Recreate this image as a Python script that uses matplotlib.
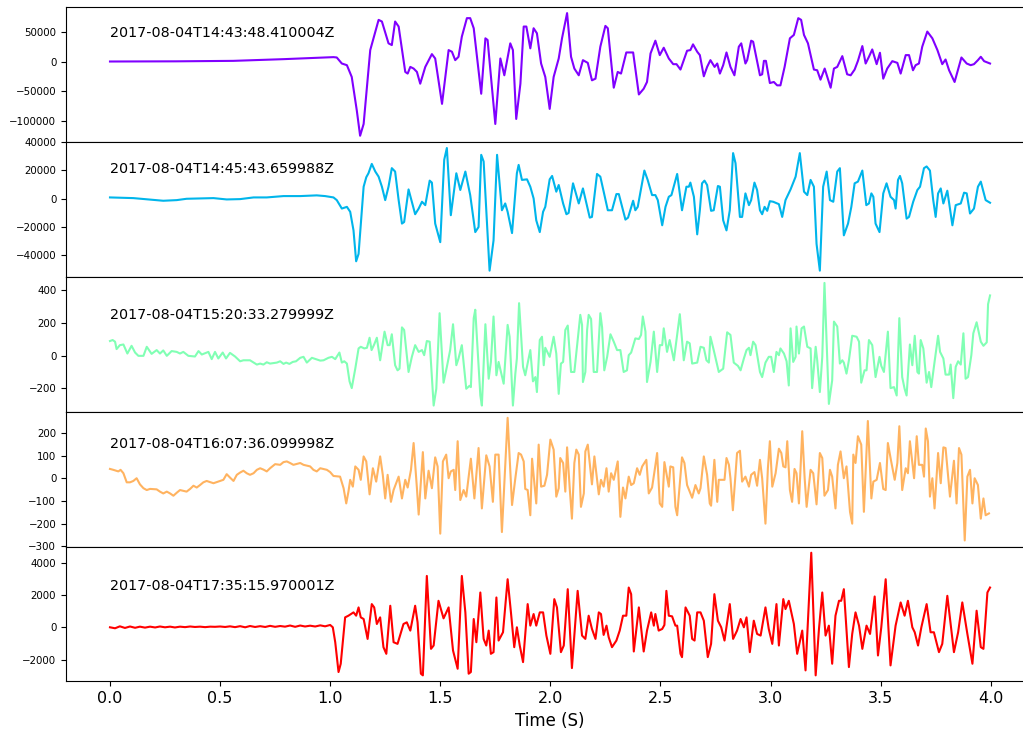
import numpy as np
import matplotlib
matplotlib.use("Agg")
import matplotlib.pyplot as plt


labels = ["2017-08-04T14:43:48.410004Z", "2017-08-04T14:45:43.659988Z",
          "2017-08-04T15:20:33.279999Z", "2017-08-04T16:07:36.099998Z",
          "2017-08-04T17:35:15.970001Z"]

###############################################################################
# Traces (time in s, amplitude in counts)
t1 = [0.000, 0.300, 0.560, 0.790, 1.015, 1.030, 1.053, 1.076, 1.098, 1.121,
      1.136, 1.152, 1.182, 1.220, 1.235, 1.265, 1.280, 1.295, 1.311, 1.341,
      1.352, 1.364, 1.379, 1.394, 1.409, 1.432, 1.462, 1.477, 1.508, 1.538,
      1.553, 1.568, 1.583, 1.598, 1.621, 1.636, 1.652, 1.686, 1.705, 1.715,
      1.750, 1.773, 1.791, 1.818, 1.830, 1.845, 1.864, 1.879, 1.891, 1.909,
      1.924, 1.939, 1.958, 1.977, 1.997, 2.015, 2.038, 2.053, 2.076, 2.094,
      2.109, 2.129, 2.148, 2.170, 2.189, 2.205, 2.227, 2.250, 2.261, 2.288,
      2.306, 2.321, 2.345, 2.376, 2.402, 2.424, 2.439, 2.455, 2.477, 2.497,
      2.515, 2.538, 2.558, 2.573, 2.591, 2.606, 2.621, 2.636, 2.648, 2.667,
      2.679, 2.697, 2.712, 2.727, 2.746, 2.758, 2.770, 2.785, 2.800, 2.818,
      2.836, 2.856, 2.867, 2.886, 2.894, 2.912, 2.921, 2.952, 2.962, 2.970,
      2.979, 2.997, 3.015, 3.030, 3.045, 3.064, 3.088, 3.106, 3.126, 3.139,
      3.152, 3.170, 3.197, 3.212, 3.227, 3.246, 3.273, 3.288, 3.303, 3.326,
      3.348, 3.364, 3.382, 3.397, 3.417, 3.432, 3.447, 3.462, 3.482, 3.497,
      3.512, 3.530, 3.553, 3.576, 3.591, 3.614, 3.629, 3.647, 3.659, 3.674,
      3.689, 3.712, 3.735, 3.758, 3.780, 3.795, 3.811, 3.836, 3.867, 3.891,
      3.909, 3.924, 3.942, 3.955, 3.970, 3.997]
a1 = [0, 300, 1100, 4000, 7400, 6800, -3400, -6200, -26100, -82900,
      -125500, -105600, 19300, 70400, 67600, 30700, 27800, 67600, 59100, -17600,
      -20400, -9100, -11900, -17600, -37500, -9100, 12500, 5100, -71600, 19300,
      16500, 2300, 8000, 42000, 73300, 73300, 56200, -54500, 39200, 36400,
      -105600, 5100, -23300, 30700, 19300, -97100, -37500, 59100, 59100, 22200,
      56200, 47700, -3400, -26100, -80100, -26100, 5100, 39200, 81800, 8000,
      -11900, -23300, 2300, -2300, -31800, -29000, 25000, 60200, 56200, -44300,
      -17600, -20400, 15300, 15300, -55700, -46000, -34600, 13600, 35200, 10800,
      23300, 5100, -4500, -4500, -13600, 2300, 18200, 19300, 29000, 16500,
      10800, -25000, -9100, 2300, -9100, -3400, -20400, -6200, 15300, -9100,
      -23300, 25000, 30700, -3400, 2300, 35200, 33500, -23300, -21600, 1100,
      1100, -36400, -34600, -40300, -40300, -9100, 39200, 44900, 73300, 70400,
      44900, 30700, -13600, -14800, -30700, -11900, -44300, -11900, -9100, 9100,
      -21600, -23300, -13600, 1100, 26100, -3400, 8000, 20400, -4500, 14800,
      -29000, -11900, 600, -2300, -20400, 10800, 10800, -14800, -6200, -3400,
      25000, 50600, 39200, 19300, -4500, 3400, -14800, -34600, 6800, -3400,
      -6200, -4500, 2300, 8000, 600, -3400]

t2 = [0.000, 0.106, 0.242, 0.303, 0.348, 0.470, 0.530, 0.591, 0.652, 0.712,
      0.788, 0.864, 0.939, 0.977, 1.015, 1.030, 1.053, 1.076, 1.091, 1.106,
      1.118, 1.129, 1.152, 1.164, 1.174, 1.189, 1.205, 1.220, 1.235, 1.250,
      1.265, 1.280, 1.295, 1.311, 1.326, 1.336, 1.356, 1.364, 1.386, 1.402,
      1.417, 1.432, 1.452, 1.462, 1.477, 1.500, 1.518, 1.530, 1.548, 1.573,
      1.591, 1.614, 1.636, 1.659, 1.674, 1.686, 1.697, 1.724, 1.742, 1.758,
      1.780, 1.795, 1.806, 1.826, 1.848, 1.856, 1.871, 1.894, 1.909, 1.924,
      1.936, 1.952, 1.967, 1.977, 1.997, 2.008, 2.027, 2.038, 2.058, 2.073,
      2.083, 2.103, 2.129, 2.148, 2.179, 2.189, 2.212, 2.227, 2.261, 2.280,
      2.300, 2.311, 2.341, 2.353, 2.376, 2.386, 2.397, 2.427, 2.442, 2.462,
      2.477, 2.488, 2.508, 2.523, 2.538, 2.550, 2.576, 2.598, 2.618, 2.629,
      2.636, 2.652, 2.667, 2.679, 2.689, 2.700, 2.712, 2.730, 2.742, 2.761,
      2.770, 2.785, 2.800, 2.815, 2.830, 2.841, 2.861, 2.871, 2.886, 2.902,
      2.912, 2.927, 2.939, 2.952, 2.962, 2.973, 2.985, 2.997, 3.012, 3.038,
      3.053, 3.068, 3.091, 3.114, 3.133, 3.152, 3.167, 3.182, 3.197, 3.209,
      3.224, 3.239, 3.255, 3.270, 3.285, 3.303, 3.315, 3.333, 3.352, 3.367,
      3.382, 3.397, 3.417, 3.435, 3.447, 3.458, 3.467, 3.477, 3.495, 3.512,
      3.527, 3.545, 3.561, 3.568, 3.579, 3.588, 3.598, 3.618, 3.629, 3.648,
      3.667, 3.679, 3.697, 3.709, 3.724, 3.739, 3.750, 3.761, 3.773, 3.785,
      3.803, 3.826, 3.841, 3.864, 3.879, 3.891, 3.906, 3.924, 3.942, 3.955,
      3.977, 3.997]
a2 = [950, 470, -1400, -950, 0, 470, -470, -240, 950, 950,
      1900, 1900, 2400, 1900, 950, -950, -6900, -5700, -9200, -22300,
      -44100, -38900, 8500, 15200, 18000, 24600, 19200, 15600, 8500, -950,
      8500, 21600, 19200, -950, -17500, -16400, 6600, 1900, -10900, -6900,
      -2100, -4500, 12800, 11400, -17500, -30600, 27500, 35800, -11600, 18000,
      6200, 19200, 2600, -23500, -19900, 31000, 26300, -50700, -29400, 31000,
      -8100, -3300, -9200, -24200, 18000, 23900, 13300, 13700, 8500, 240,
      -15200, -23500, -9200, -5700, 13700, 16100, 5000, 9700, -3300, -10900,
      -10000, 10900, -3300, 7300, -13300, -12800, 17500, 15600, -8100, -8100,
      3300, 3300, -14700, -13300, -1400, -8100, -5700, 19900, 13300, 2600,
      2600, -950, -18700, -5700, 1400, 2600, 17500, -8100, 8500, 8500,
      11400, 1400, -25100, -8100, 10900, 12800, 9700, -8500, -8100, 9000,
      8500, -15200, -22300, -8100, 32200, 25100, -12800, -12800, 3800, -4500,
      -950, 11400, 6200, -8100, -10900, -5700, -8500, -1700, -2100, -3800,
      -12800, -950, 6600, 15600, 32200, 5000, 2600, 13300, 8500, -31800,
      -50700, 8500, 19200, -950, -2100, 19200, 21600, -25800, -17500, -5700,
      10900, 12100, 19900, -4500, -3300, 3800, 1400, -17500, -23500, 3800,
      10900, 1400, -950, -6900, 13300, 16100, 10900, -14000, -12800, -2100,
      6200, 8500, 21600, 22800, 19900, -950, -12800, 3800, 7300, -3300,
      5700, -18700, -4500, -3300, 4300, 3800, -10400, -6900, 8500, 12100,
      -950, -2800]

t3 = [0.000, 0.012, 0.023, 0.030, 0.045, 0.061, 0.079, 0.098, 0.114, 0.129,
      0.152, 0.167, 0.189, 0.212, 0.227, 0.242, 0.258, 0.280, 0.303, 0.318,
      0.333, 0.356, 0.386, 0.402, 0.417, 0.447, 0.462, 0.477, 0.492, 0.512,
      0.527, 0.545, 0.568, 0.591, 0.606, 0.636, 0.667, 0.682, 0.697, 0.712,
      0.727, 0.758, 0.773, 0.788, 0.800, 0.815, 0.830, 0.845, 0.864, 0.879,
      0.894, 0.917, 0.955, 0.970, 0.992, 1.008, 1.023, 1.042, 1.053, 1.064,
      1.076, 1.088, 1.098, 1.114, 1.129, 1.139, 1.155, 1.167, 1.179, 1.188,
      1.200, 1.212, 1.227, 1.247, 1.261, 1.270, 1.280, 1.295, 1.306, 1.315,
      1.326, 1.336, 1.356, 1.371, 1.386, 1.402, 1.417, 1.427, 1.439, 1.452,
      1.470, 1.482, 1.497, 1.515, 1.530, 1.545, 1.558, 1.573, 1.583, 1.598,
      1.618, 1.633, 1.639, 1.652, 1.659, 1.682, 1.689, 1.705, 1.720, 1.730,
      1.742, 1.755, 1.765, 1.788, 1.806, 1.815, 1.830, 1.841, 1.848, 1.858,
      1.876, 1.886, 1.909, 1.921, 1.932, 1.939, 1.952, 1.962, 1.970, 1.977,
      1.997, 2.015, 2.027, 2.038, 2.048, 2.058, 2.068, 2.079, 2.094, 2.109,
      2.136, 2.144, 2.148, 2.159, 2.167, 2.174, 2.185, 2.197, 2.212, 2.227,
      2.235, 2.245, 2.258, 2.273, 2.288, 2.303, 2.318, 2.333, 2.348, 2.356,
      2.367, 2.386, 2.402, 2.412, 2.420, 2.432, 2.439, 2.455, 2.470, 2.485,
      2.497, 2.508, 2.515, 2.530, 2.542, 2.561, 2.588, 2.606, 2.621, 2.633,
      2.644, 2.667, 2.682, 2.697, 2.709, 2.720, 2.727, 2.742, 2.765, 2.785,
      2.803, 2.818, 2.833, 2.852, 2.864, 2.879, 2.891, 2.902, 2.909, 2.921,
      2.932, 2.952, 2.962, 2.977, 2.992, 3.003, 3.015, 3.027, 3.038, 3.045,
      3.061, 3.073, 3.083, 3.091, 3.103, 3.114, 3.118, 3.129, 3.141, 3.152,
      3.167, 3.182, 3.189, 3.205, 3.212, 3.224, 3.235, 3.245, 3.265, 3.280,
      3.288, 3.303, 3.315, 3.326, 3.333, 3.345, 3.356, 3.371, 3.391, 3.402,
      3.412, 3.427, 3.436, 3.447, 3.462, 3.477, 3.495, 3.503, 3.515, 3.533,
      3.545, 3.561, 3.573, 3.585, 3.598, 3.609, 3.618, 3.633, 3.644, 3.655,
      3.667, 3.674, 3.682, 3.694, 3.709, 3.720, 3.730, 3.742, 3.761, 3.770,
      3.785, 3.795, 3.811, 3.818, 3.830, 3.841, 3.852, 3.864, 3.876, 3.886,
      3.897, 3.912, 3.921, 3.936, 3.955, 3.967, 3.982, 3.988, 3.997]
a3 = [88, 94, 84, 39, 63, 67, 12, 59, 18, -2,
      -2, 53, 10, 33, 12, 31, -2, 27, 22, 12,
      22, -2, -6, 27, 6, 22, -22, 22, -18, 18,
      -18, 16, -6, -35, -29, -29, -55, -49, -55, -41,
      -49, -43, -35, -51, -43, -51, -39, -35, -14, -8,
      -43, -14, -31, -29, -14, -8, -22, 18, -43, -35,
      -49, -157, -198, -80, 43, 53, 43, 47, 108, 33,
      67, 108, -29, 145, 63, 63, 129, -59, -90, -80,
      171, 155, -100, -8, 63, 22, 33, 2, 88, 84,
      -304, -202, 257, -165, -69, 33, 190, -59, -18, 63,
      -202, -184, -192, 227, 278, -243, -304, 190, -141, -39,
      237, -120, -39, -171, 186, 114, -304, -110, -18, 318,
      -69, -120, 33, -157, -131, -222, 94, 114, -59, 47,
      -8, 114, 12, -233, -49, -39, 155, 182, -100, -100,
      247, 186, -161, -100, 155, 247, 222, -100, -100, 257,
      171, -90, -8, 129, 84, 33, 33, -100, -90, 2,
      18, 104, 100, 125, 237, 145, -161, -39, 145, -100,
      63, 63, 165, 22, 94, -29, 251, -29, 84, 74,
      -49, -43, 53, 47, -29, -43, 114, 33, -100, -80,
      141, 125, -43, -63, -90, -18, 33, 47, 2, 84,
      63, -100, -131, -43, -8, -8, -100, 22, 2, 43,
      12, -35, -182, 165, -39, -8, 176, 12, 165, 176,
      53, 43, -198, 53, -29, -222, -8, 441, -294, -151,
      206, 176, -49, -29, -43, -110, -29, 120, 114, 84,
      -165, -90, -90, 94, 63, -131, -8, -63, -100, 145,
      -198, -192, -243, 227, -131, -202, -243, 67, -59, 120,
      -100, -110, 94, 43, -165, -100, -192, -69, 120, 22,
      -18, -116, -116, -55, -259, -69, -35, -55, 135, -141,
      -131, 2, 135, 202, 84, 59, 80, 312, 365]

t4 = [0.000, 0.015, 0.038, 0.048, 0.061, 0.076, 0.091, 0.106, 0.121, 0.136,
      0.152, 0.167, 0.182, 0.212, 0.227, 0.242, 0.258, 0.273, 0.288, 0.303,
      0.318, 0.348, 0.364, 0.379, 0.394, 0.409, 0.424, 0.439, 0.470, 0.500,
      0.515, 0.530, 0.545, 0.561, 0.576, 0.591, 0.606, 0.621, 0.636, 0.652,
      0.667, 0.682, 0.697, 0.712, 0.727, 0.750, 0.773, 0.788, 0.803, 0.818,
      0.833, 0.864, 0.879, 0.909, 0.924, 0.939, 0.955, 0.985, 1.000, 1.015,
      1.045, 1.061, 1.073, 1.083, 1.091, 1.103, 1.114, 1.129, 1.139, 1.152,
      1.164, 1.179, 1.194, 1.209, 1.227, 1.239, 1.250, 1.261, 1.276, 1.288,
      1.311, 1.326, 1.341, 1.352, 1.367, 1.379, 1.394, 1.402, 1.421, 1.432,
      1.447, 1.462, 1.477, 1.488, 1.500, 1.512, 1.527, 1.538, 1.548, 1.561,
      1.568, 1.579, 1.591, 1.606, 1.618, 1.639, 1.655, 1.674, 1.689, 1.709,
      1.724, 1.739, 1.750, 1.765, 1.780, 1.806, 1.826, 1.841, 1.856, 1.867,
      1.879, 1.886, 1.897, 1.909, 1.917, 1.936, 1.947, 1.958, 1.973, 1.985,
      2.000, 2.015, 2.027, 2.038, 2.045, 2.058, 2.068, 2.076, 2.088, 2.098,
      2.109, 2.118, 2.129, 2.139, 2.152, 2.159, 2.170, 2.189, 2.200, 2.220,
      2.230, 2.242, 2.255, 2.265, 2.276, 2.288, 2.306, 2.318, 2.330, 2.341,
      2.356, 2.367, 2.379, 2.394, 2.406, 2.417, 2.436, 2.447, 2.462, 2.473,
      2.485, 2.497, 2.508, 2.518, 2.538, 2.545, 2.558, 2.568, 2.576, 2.598,
      2.609, 2.621, 2.644, 2.659, 2.674, 2.682, 2.697, 2.712, 2.724, 2.730,
      2.745, 2.758, 2.765, 2.791, 2.800, 2.811, 2.818, 2.829, 2.848, 2.861,
      2.871, 2.886, 2.902, 2.912, 2.927, 2.939, 2.952, 2.962, 2.977, 2.988,
      2.997, 3.008, 3.023, 3.038, 3.049, 3.058, 3.068, 3.076, 3.088, 3.098,
      3.109, 3.118, 3.129, 3.144, 3.155, 3.164, 3.182, 3.194, 3.209, 3.224,
      3.235, 3.245, 3.261, 3.270, 3.280, 3.295, 3.306, 3.318, 3.333, 3.345,
      3.361, 3.371, 3.376, 3.386, 3.397, 3.412, 3.424, 3.442, 3.458, 3.467,
      3.482, 3.497, 3.512, 3.523, 3.533, 3.548, 3.564, 3.576, 3.585, 3.598,
      3.614, 3.624, 3.633, 3.652, 3.664, 3.674, 3.689, 3.697, 3.705, 3.715,
      3.724, 3.735, 3.745, 3.761, 3.773, 3.785, 3.795, 3.815, 3.833, 3.845,
      3.856, 3.867, 3.882, 3.894, 3.906, 3.917, 3.927, 3.942, 3.955, 3.967,
      3.977, 3.992]
a4 = [41, 37, 30, 37, 22, -18, -18, -12, 0, -27,
      -44, -52, -47, -49, -59, -67, -59, -67, -77, -64,
      -52, -59, -47, -33, -41, -30, -18, -12, -22, -12,
      -7, 18, 3, -12, 15, 25, 33, 22, 15, 22,
      37, 44, 38, 30, 44, 62, 59, 71, 74, 67,
      59, 67, 59, 52, 37, 30, 44, 37, 27, 10,
      7, -44, -111, -59, -7, -37, 52, 37, -7, 96,
      74, -71, 44, -15, 96, 15, -89, 15, -104, -52,
      7, -89, -7, -41, 37, 155, -44, -160, 115, -89,
      33, -44, 92, 52, -244, 74, 104, 0, 30, 37,
      -52, 163, -96, -52, -81, 86, -89, 133, -133, 101,
      52, -104, 104, 104, -237, 266, -118, 0, 111, 104,
      74, -47, -52, -163, 86, -111, 148, -37, -33, 15,
      170, 126, -81, -44, 89, 67, -59, 136, -44, -178,
      67, 126, 104, -126, -67, 118, 148, -27, 96, -71,
      -7, -37, 44, -59, 22, -7, 74, -170, -41, -89,
      7, -30, -22, 44, 15, 52, 81, -67, -41, 30,
      111, -111, -126, 71, -37, 52, 48, -126, -163, 92,
      67, -30, -86, -30, -67, -44, 96, 15, -111, -121,
      81, -104, -7, -7, 89, 59, 0, -141, 111, 121,
      -15, 7, -37, 15, 27, -33, 81, 0, -200, 44,
      163, -37, 22, 130, 111, 52, 48, 163, -52, -104,
      41, 22, -111, 207, 0, -126, 37, 22, -115, 111,
      89, -77, -52, 37, 7, -133, 59, 118, 0, 52,
      -148, -200, 104, 67, 185, 148, -148, 252, -89, -15,
      -7, 67, -47, -52, 155, 74, -7, 67, 229, -52,
      44, 22, 163, 0, 185, 59, 59, 7, 219, 163,
      -81, 0, -133, 111, -22, 136, 133, -81, 77, -111,
      133, 104, -274, 7, 37, -111, 0, -30, -178, -89,
      -163, -155]

t5 = [0.000, 0.023, 0.045, 0.068, 0.091, 0.114, 0.136, 0.159, 0.182, 0.205,
      0.227, 0.250, 0.273, 0.295, 0.318, 0.341, 0.364, 0.386, 0.409, 0.432,
      0.455, 0.477, 0.500, 0.523, 0.545, 0.568, 0.591, 0.614, 0.636, 0.659,
      0.682, 0.705, 0.727, 0.750, 0.773, 0.795, 0.818, 0.841, 0.864, 0.886,
      0.909, 0.932, 0.955, 0.977, 1.000, 1.012, 1.023, 1.038, 1.048, 1.068,
      1.083, 1.106, 1.118, 1.129, 1.139, 1.152, 1.170, 1.189, 1.200, 1.212,
      1.227, 1.242, 1.255, 1.273, 1.288, 1.306, 1.333, 1.348, 1.364, 1.386,
      1.397, 1.412, 1.421, 1.439, 1.458, 1.470, 1.492, 1.515, 1.538, 1.558,
      1.579, 1.598, 1.614, 1.629, 1.639, 1.652, 1.664, 1.682, 1.697, 1.709,
      1.720, 1.730, 1.742, 1.755, 1.765, 1.785, 1.806, 1.821, 1.836, 1.848,
      1.861, 1.876, 1.897, 1.909, 1.924, 1.936, 1.952, 1.967, 1.982, 2.000,
      2.018, 2.030, 2.048, 2.061, 2.079, 2.098, 2.124, 2.144, 2.159, 2.174,
      2.189, 2.205, 2.220, 2.230, 2.242, 2.255, 2.265, 2.280, 2.300, 2.315,
      2.330, 2.345, 2.356, 2.367, 2.379, 2.402, 2.424, 2.439, 2.458, 2.470,
      2.477, 2.492, 2.508, 2.518, 2.527, 2.538, 2.553, 2.568, 2.576, 2.591,
      2.598, 2.614, 2.633, 2.644, 2.655, 2.667, 2.682, 2.697, 2.715, 2.730,
      2.745, 2.761, 2.776, 2.791, 2.815, 2.830, 2.848, 2.864, 2.879, 2.891,
      2.906, 2.924, 2.939, 2.955, 2.977, 2.992, 3.008, 3.027, 3.038, 3.058,
      3.068, 3.083, 3.106, 3.121, 3.144, 3.159, 3.185, 3.205, 3.220, 3.235,
      3.250, 3.265, 3.280, 3.295, 3.311, 3.321, 3.333, 3.356, 3.371, 3.386,
      3.402, 3.417, 3.436, 3.452, 3.473, 3.488, 3.503, 3.523, 3.545, 3.568,
      3.591, 3.609, 3.624, 3.644, 3.655, 3.670, 3.685, 3.709, 3.727, 3.742,
      3.765, 3.780, 3.803, 3.833, 3.852, 3.871, 3.894, 3.917, 3.936, 3.955,
      3.967, 3.985, 3.997]
a5 = [0, -60, 60, -40, 50, -30, 40, -20, 40, -10,
      50, 0, 40, -10, 40, 10, 50, 20, 40, 10,
      40, 30, 50, 20, 60, 10, 70, 0, 80, 20,
      70, 20, 90, 30, 80, 40, 110, 30, 110, 50,
      100, 50, 120, 60, 144, 0, -925, -2775, -2260, 616,
      720, 925, 720, 1233, 616, 514, -720, 1439, 1233, 205,
      616, -1233, -1644, 1336, -925, -1028, 205, 308, -205, 1336,
      308, -2877, -2980, 3185, -1336, -1130, 1644, 555, 1233, -1439,
      -2569, 3185, 925, -2877, -2775, 514, -925, 2158, -720, -1130,
      -205, -1644, -1541, 1849, -822, -308, 2980, 925, -1233, 0,
      -1130, -2158, 1439, 103, 822, 103, 925, 925, -514, -1644,
      1747, 1233, -1541, -1130, 2363, -2528, 2260, -514, -719, 719,
      -103, -719, 925, 822, -473, 103, -616, -1233, -822, -205,
      719, 719, 2466, 2055, -1500, 1233, -1500, -205, 925, 103,
      822, -205, -103, 144, 2260, 719, 678, 103, 103, -1644,
      -1850, 1233, 719, -719, -822, 925, 925, 411, -1850, -1028,
      2055, 411, 0, -822, 1439, -719, -205, 514, 0, 616,
      -1541, 411, -411, -514, 1233, -103, -1028, 1439, -1130, 1747,
      1130, 1644, 205, -1644, -205, -2672, 4624, -2980, -103, 2158,
      -514, 103, -2260, 719, 1644, 1644, 2363, -2466, -411, 925,
      103, -1336, 103, -411, 1911, -1747, 0, 2980, -2363, 103,
      1541, 719, 1644, 0, -308, -1130, 0, 1439, -308, -308,
      -1541, -1028, 1952, -1541, -308, 1541, -411, -2260, 1028, -1233,
      -1336, 2158, 2466]

times = [t1, t2, t3, t4, t5]
amps = [a1, a2, a3, a4, a5]

###############################################################################
# Plot
colors = plt.cm.rainbow(np.linspace(0, 1, len(amps)))
fig, axes = plt.subplots(len(amps), 1, sharex=True, figsize=(10.23, 7.35),
                         dpi=100,
                         gridspec_kw={"hspace": 0, "left": 0.0645,
                                      "right": 1.0108, "top": 0.9905,
                                      "bottom": 0.0728})
for ax, t, a, c, lab in zip(axes, times, amps, colors, labels):
    ax.plot(t, a, color=c, linewidth=1.5)
    ax.text(0, 0.5 * max(a), lab, fontsize=10.3)
    ax.tick_params(axis="y", labelsize=7.4)
    ax.tick_params(axis="x", labelsize=11.5)

axes[-1].set_xlabel("Time (S)", fontsize=12)
fig.savefig("out.png")
